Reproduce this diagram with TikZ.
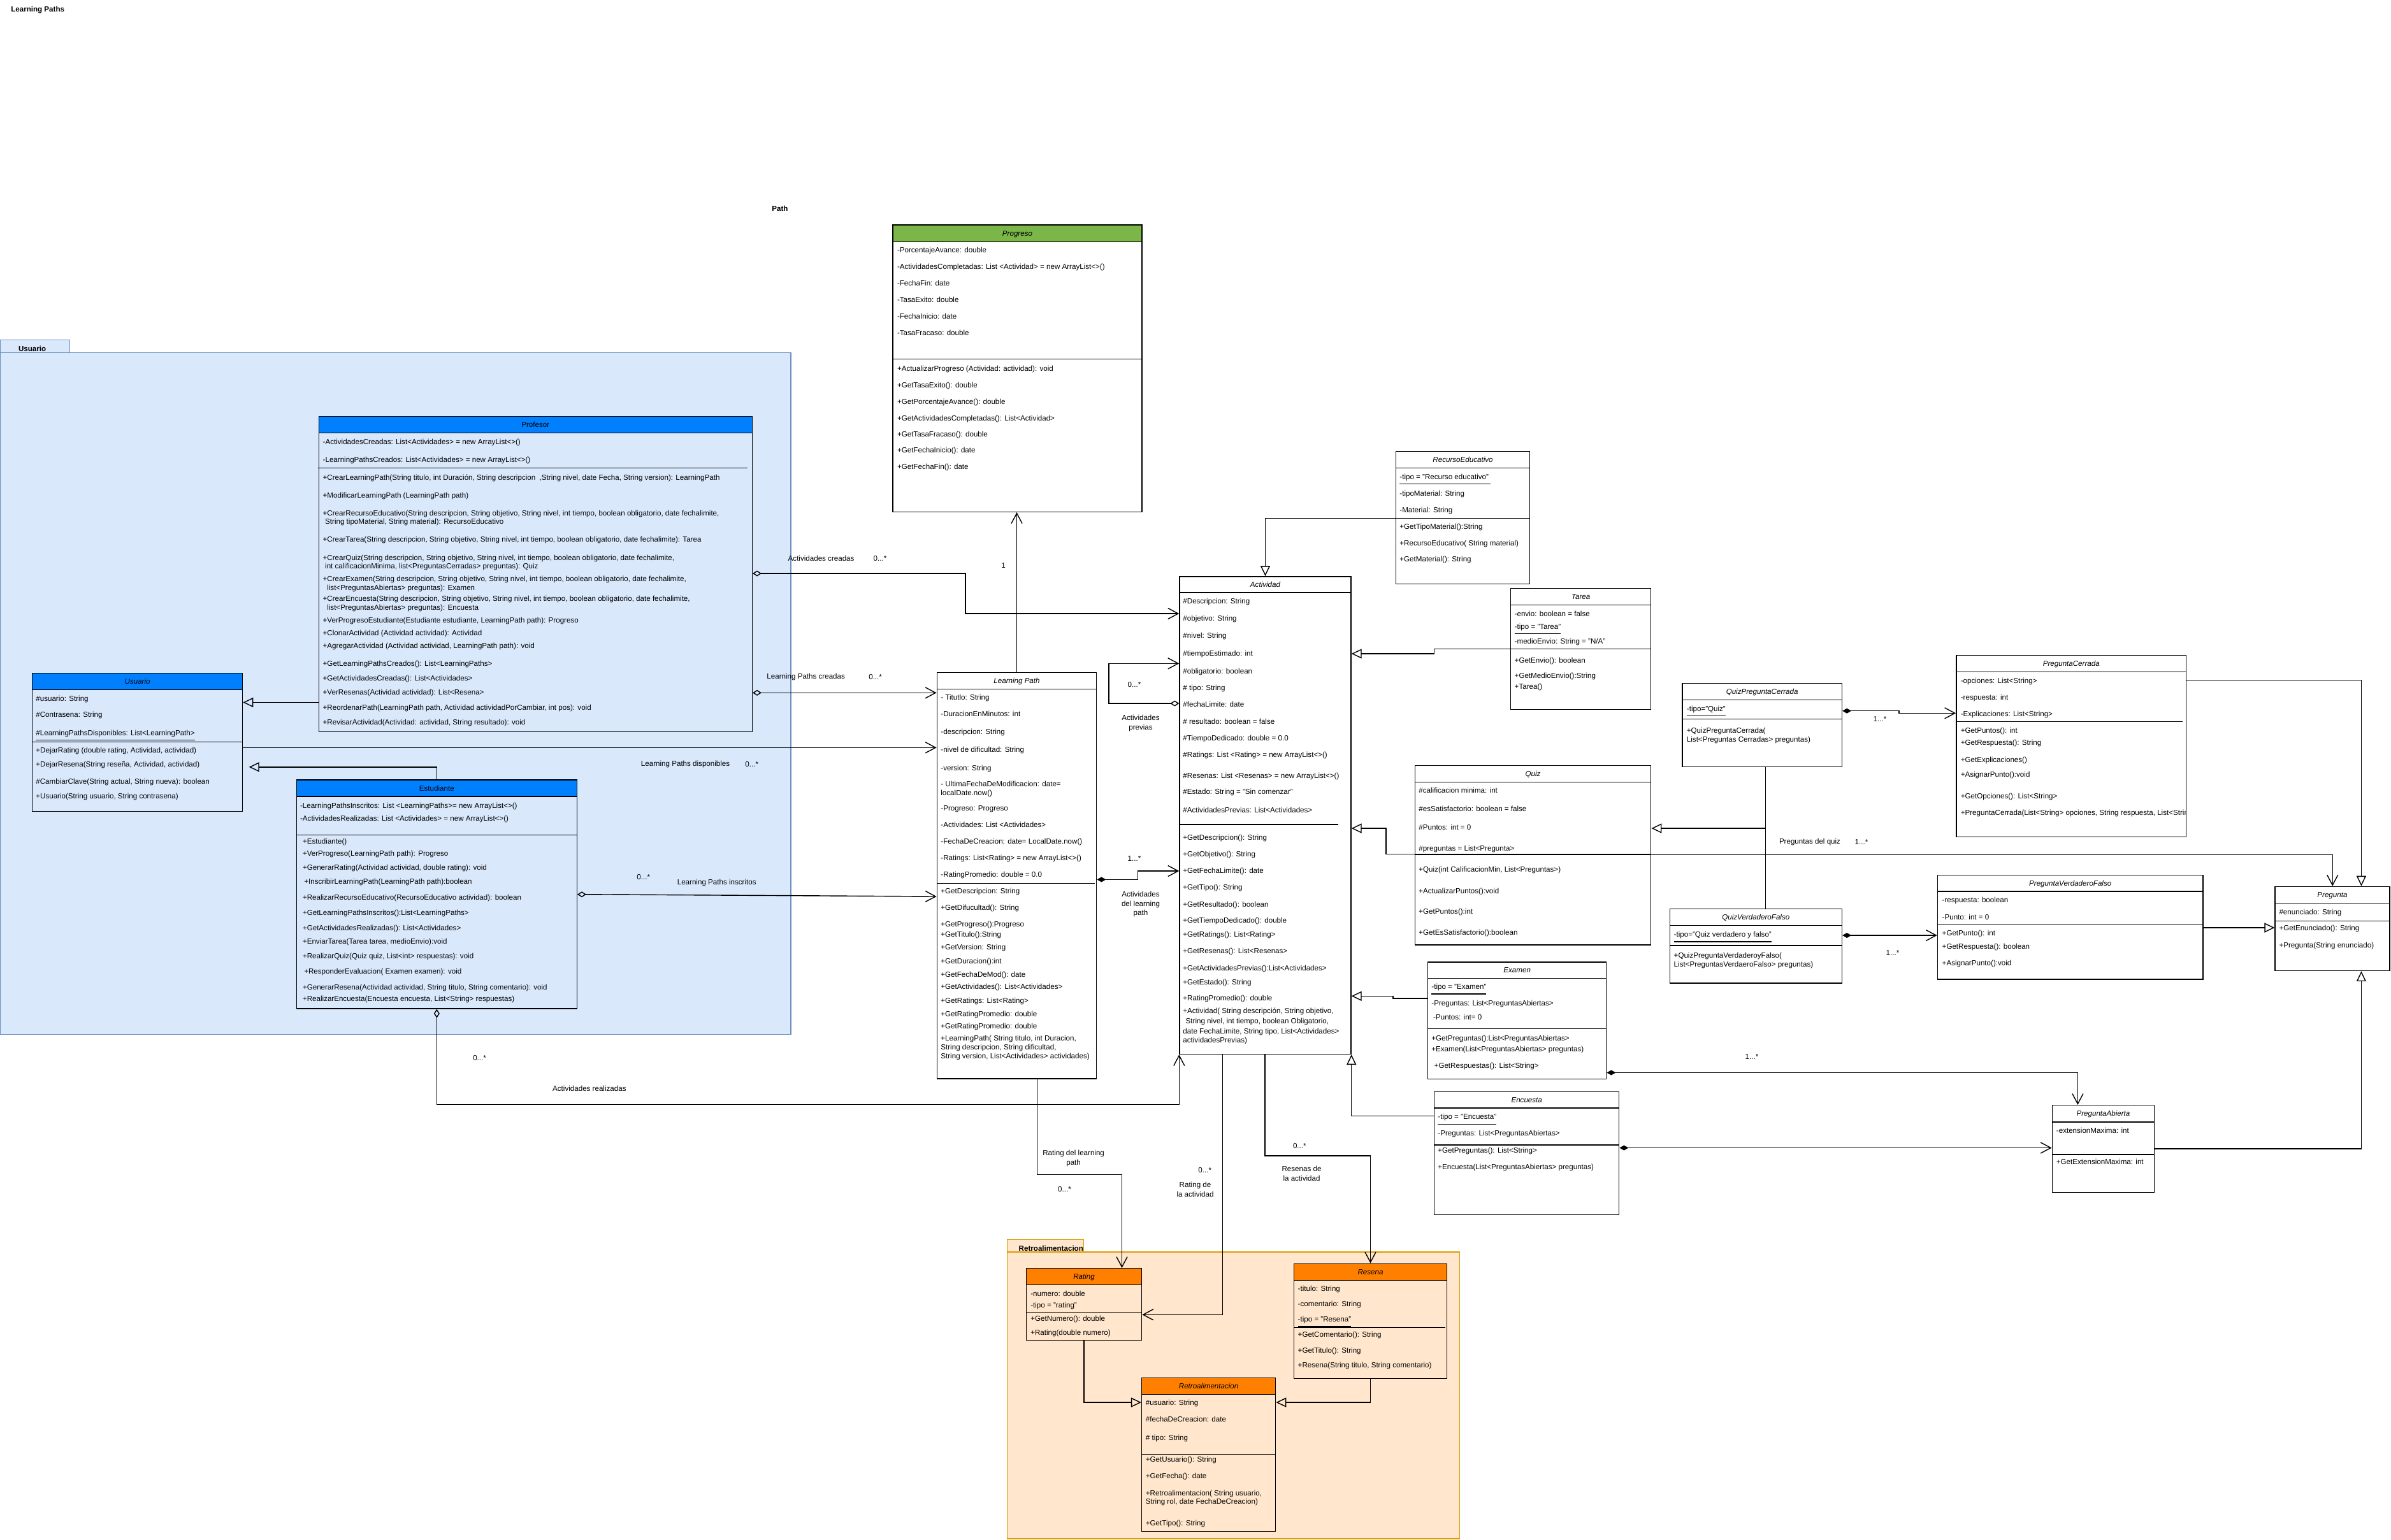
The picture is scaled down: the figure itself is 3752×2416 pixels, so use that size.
\documentclass[tikz,border=0pt]{standalone}
\usepackage{fontspec}
\setmainfont{Liberation Sans}
\usetikzlibrary{arrows.meta,fit}
\definecolor{ublue}{HTML}{DAE8FC}
\definecolor{ustroke}{HTML}{6C8EBF}
\definecolor{rorange}{HTML}{FFE6CC}
\definecolor{rstroke}{HTML}{D79B00}
\definecolor{hblue}{HTML}{007FFF}
\definecolor{horange}{HTML}{FF8000}
\definecolor{hgreen}{HTML}{7AB648}
\newcommand\fsz{\fontsize{3.3pt}{4.1pt}\selectfont}
\def\linew{0.4pt}
\newcounter{tlc}
\newcommand\tline[3]{\stepcounter{tlc}\node[tx] (tl\thetlc) at (#1,{#2+4}) {#3};}
\newcommand\umlcls[9]{%
  \filldraw[fill=#7,line width=\linew] (#2,#3) rectangle (#4,#6);
  \coordinate (#1nw) at (#2,#3);
  \coordinate (#1se) at (#4,#5);
  \node[box,fit=(#1nw)(#1se)] (#1) {};
  \node[ttl,font=\fsz#9] (#1t) at ({(#2+#4)/2},{(#3+#6)/2+4}) {#8};
}
\begin{document}
\begin{tikzpicture}[x=0.1mm,y=-0.1mm,
  tx/.style={font=\fsz,inner sep=0pt,anchor=base west},
  ttl/.style={font=\fsz,inner sep=0pt,anchor=base},
  lbl/.style={font=\fsz,inner sep=0pt,align=center},
  bold/.style={font=\fsz\bfseries,inner sep=0pt},
  box/.style={draw,line width=\linew,inner sep=0pt},
  sepl/.style={line width=\linew},
  conn/.style={draw,line width=\linew},
  gen/.style={conn,-{Triangle[open,length=1.6mm,width=1.5mm]}},
  assoc/.style={conn,-{Straight Barb[length=1.6mm,width=1.7mm]}},
  agg/.style={conn,{Diamond[open,length=1.4mm,width=0.9mm]}-{Straight Barb[length=1.6mm,width=1.7mm]}},
  comp/.style={conn,{Diamond[length=1.4mm,width=0.8mm]}-{Straight Barb[length=1.6mm,width=1.7mm]}}
]
\useasboundingbox (0,0) rectangle (3752,2416);

% titles
\node[bold,anchor=base west] (title) at (16.6,18) {Learning Paths};
\node[bold,anchor=base] (pathlbl) at (1224,331) {Path};

% packages
\filldraw[fill=ublue,draw=ustroke,line width=\linew] (0,533.5) rectangle (109.5,553.5);
\filldraw[fill=ublue,draw=ustroke,line width=\linew] (0,553.5) rectangle (1241,1623.3);
\node[bold,anchor=base] (pkgusr) at (50.6,551) {Usuario};
\filldraw[fill=rorange,draw=rstroke,line width=\linew] (1580.2,1945.3) rectangle (1700.4,1965);
\filldraw[fill=rorange,draw=rstroke,line width=\linew] (1580.2,1965) rectangle (2290.7,2415);
\node[bold,anchor=base west] (pkgret) at (1598,1963) {Retroalimentacion};

% ---------- Progreso
\umlcls{prog}{1401}{353}{1792}{803.3}{379.3}{hgreen}{Progreso}{\itshape}
\draw[sepl] (1401,563.3) -- (1792,563.3);
\tline{1407.3}{392.7}{-PorcentajeAvance: double}
\tline{1407.3}{418.7}{-ActividadesCompletadas: List <Actividad> = new ArrayList<>()}
\tline{1407.3}{444.7}{-FechaFin: date}
\tline{1407.3}{470.7}{-TasaExito: double}
\tline{1407.3}{496.7}{-FechaInicio: date}
\tline{1407.3}{522.7}{-TasaFracaso: double}
\tline{1407.3}{578.7}{+ActualizarProgreso (Actividad: actividad): void}
\tline{1407.3}{604.7}{+GetTasaExito(): double}
\tline{1407.3}{630}{+GetPorcentajeAvance(): double}
\tline{1407.3}{656}{+GetActividadesCompletadas(): List<Actividad>}
\tline{1407.3}{681.7}{+GetTasaFracaso(): double}
\tline{1407.3}{706.7}{+GetFechaInicio(): date}
\tline{1407.3}{732.7}{+GetFechaFin(): date}

% ---------- Profesor
\umlcls{prof}{500.3}{653.3}{1180.3}{1148.3}{679.3}{hblue}{Profesor}{\upshape}
\draw[sepl] (499.4,734.3) -- (1172.8,734.3);
\tline{506}{693.3}{-ActividadesCreadas: List<Actividades> = new ArrayList<>()}
\tline{506}{721}{-LearningPathsCreados: List<Actividades> = new ArrayList<>()}
\tline{506}{749}{+CrearLearningPath(String titulo, int Duración, String descripcion\ \ ,String nivel, date Fecha, String version): LearningPath}
\tline{506}{777}{+ModificarLearningPath (LearningPath path)}
\tline{506}{805}{+CrearRecursoEducativo(String descripcion, String objetivo, String nivel, int tiempo, boolean obligatorio, date fechalimite,}
\tline{509.5}{818.7}{String tipoMaterial, String material): RecursoEducativo}
\tline{506}{846.7}{+CrearTarea(String descripcion, String objetivo, String nivel, int tiempo, boolean obligatorio, date fechalimite): Tarea}
\tline{506}{875}{+CrearQuiz(String descripcion, String objetivo, String nivel, int tiempo, boolean obligatorio, date fechalimite,}
\tline{509.5}{888.7}{int calificacionMinima, list<PreguntasCerradas> preguntas): Quiz}
\tline{506}{908.7}{+CrearExamen(String descripcion, String objetivo, String nivel, int tiempo, boolean obligatorio, date fechalimite,}
\tline{512.6}{922.7}{list<PreguntasAbiertas> preguntas): Examen}
\tline{506}{939.7}{+CrearEncuesta(String descripcion, String objetivo, String nivel, int tiempo, boolean obligatorio, date fechalimite,}
\tline{512.6}{953.7}{list<PreguntasAbiertas> preguntas): Encuesta}
\tline{506}{973}{+VerProgresoEstudiante(Estudiante estudiante, LearningPath path): Progreso}
\tline{506}{993.7}{+ClonarActividad (Actividad actividad): Actividad}
\tline{506}{1013.7}{+AgregarActividad (Actividad actividad, LearningPath path): void}
\tline{506}{1041.7}{+GetLearningPathsCreados(): List<LearningPaths>}
\tline{506}{1064.7}{+GetActividadesCreadas(): List<Actividades>}
\tline{506}{1086.7}{+VerResenas(Actividad actividad): List<Resena>}
\tline{506}{1110.7}{+ReordenarPath(LearningPath path, Actividad actividadPorCambiar, int pos): void}
\tline{506}{1133.7}{+RevisarActividad(Actividad: actividad, String resultado): void}

% ---------- Usuario
\umlcls{usr}{50.7}{1056.5}{380.6}{1273.4}{1082.2}{hblue}{Usuario}{\itshape}
\draw[sepl] (50.7,1164.2) -- (380.6,1164.2);
\tline{55.7}{1096.1}{\#usuario: String}
\tline{55.7}{1121.8}{\#Contrasena: String}
\tline{55.7}{1150}{\underline{\#LearningPathsDisponibles: List<LearningPath>}}
\tline{55.7}{1177.8}{+DejarRating (double rating, Actividad, actividad)}
\tline{55.7}{1199}{+DejarResena(String reseña, Actividad, actividad)}
\tline{55.7}{1226.8}{\#CambiarClave(String actual, String nueva): boolean}
\tline{55.7}{1249}{+Usuario(String usuario, String contrasena)}

% ---------- Estudiante
\umlcls{est}{465.4}{1224}{905.3}{1583}{1250}{hblue}{Estudiante}{\upshape}
\draw[sepl] (465.4,1310.2) -- (905.3,1310.2);
\tline{470.4}{1264}{-LearningPathsInscritos: List <LearningPaths>= new ArrayList<>()}
\tline{470.4}{1284.8}{-ActividadesRealizadas: List <Actividades> = new ArrayList<>()}
\tline{474.3}{1320.3}{+Estudiante()}
\tline{474.3}{1339.8}{+VerProgreso(LearningPath path): Progreso}
\tline{474.3}{1361}{+GenerarRating(Actividad actividad, double rating): void}
\tline{476.6}{1383.9}{+InscribirLearningPath(LearningPath path):boolean}
\tline{474.3}{1408.9}{+RealizarRecursoEducativo(RecursoEducativo actividad): boolean}
\tline{474.3}{1432.9}{+GetLearningPathsInscritos():List<LearningPaths>}
\tline{474.3}{1456.2}{+GetActividadesRealizadas(): List<Actividades>}
\tline{474.3}{1477.7}{+EnviarTarea(Tarea tarea, medioEnvio):void}
\tline{474.3}{1500.7}{+RealizarQuiz(Quiz quiz, List<int> respuestas): void}
\tline{476.6}{1524}{+ResponderEvaluacion( Examen examen): void}
\tline{474.3}{1549}{+GenerarResena(Actividad actividad, String titulo, String comentario): void}
\tline{474.3}{1567.1}{+RealizarEncuesta(Encuesta encuesta, List<String> respuestas)}

% ---------- Learning Path
\umlcls{lp}{1470.3}{1055.5}{1720.7}{1693.1}{1081.6}{white}{Learning Path}{\itshape}
\draw[sepl] (1470.3,1386.7) -- (1718,1386.7);
\tline{1475.7}{1094.7}{- Titutlo: String}
\tline{1475.7}{1120.8}{-DuracionEnMinutos: int}
\tline{1475.7}{1148.5}{-descripcion: String}
\tline{1475.7}{1176.7}{-nivel de dificultad: String}
\tline{1475.7}{1205}{-version: String}
\tline{1475.7}{1230.6}{- UltimaFechaDeModificacion: date=}
\tline{1475.7}{1244.5}{localDate.now()}
\tline{1475.7}{1268.5}{-Progreso: Progreso}
\tline{1475.7}{1294.6}{-Actividades: List <Actividades>}
\tline{1475.7}{1320.7}{-FechaDeCreacion: date= LocalDate.now()}
\tline{1475.7}{1346.8}{-Ratings: List<Rating> = new ArrayList<>()}
\tline{1475.7}{1372.4}{-RatingPromedio: double = 0.0}
\tline{1475.7}{1398.5}{+GetDescripcion: String}
\tline{1475.7}{1424.6}{+GetDifucultad(): String}
\tline{1475.7}{1450.7}{+GetProgreso():Progreso}
\tline{1475.7}{1466.3}{+GetTitulo():String}
\tline{1475.7}{1486.5}{+GetVersion: String}
\tline{1475.7}{1508.4}{+GetDuracion():int}
\tline{1475.7}{1529.4}{+GetFechaDeMod(): date}
\tline{1475.7}{1548.4}{+GetActividades(): List<Actividades>}
\tline{1475.7}{1570.7}{+GetRatings: List<Rating>}
\tline{1475.7}{1591.3}{+GetRatingPromedio: double}
\tline{1475.7}{1610.2}{+GetRatingPromedio: double}
\tline{1475.7}{1629.6}{+LearningPath( String titulo, int Duracion,}
\tline{1475.7}{1643.1}{String descripcion, String dificultad,}
\tline{1475.7}{1657.4}{String version, List<Actividades> actividades)}

% ---------- Actividad
\umlcls{act}{1851}{904.8}{2120}{1654.3}{930.1}{white}{Actividad}{\itshape}
\draw[sepl] (1851,1294) -- (2100,1294);
\tline{1855.7}{943.8}{\#Descripcion: String}
\tline{1855.7}{970.6}{\#objetivo: String}
\tline{1855.7}{997.4}{\#nivel: String}
\tline{1855.7}{1025.7}{\#tiempoEstimado: int}
\tline{1855.7}{1053.5}{\#obligatorio: boolean}
\tline{1855.7}{1079.4}{\# tipo: String}
\tline{1855.7}{1105.7}{\#fechaLimite: date}
\tline{1855.7}{1132.6}{\# resultado: boolean = false}
\tline{1855.7}{1158.4}{\#TiempoDedicado: double = 0.0}
\tline{1855.7}{1184.3}{\#Ratings: List <Rating> = new ArrayList<>()}
\tline{1855.7}{1217}{\#Resenas: List <Resenas> = new ArrayList<>()}
\tline{1855.7}{1242.3}{\#Estado: String = "Sin comenzar"}
\tline{1855.7}{1271.6}{\#ActividadesPrevias: List<Actividades>}
\tline{1855.7}{1314.5}{+GetDescripcion(): String}
\tline{1855.7}{1340.4}{+GetObjetivo(): String}
\tline{1855.7}{1366.7}{+GetFechaLimite(): date}
\tline{1855.7}{1392.6}{+GetTipo(): String}
\tline{1855.7}{1419.4}{+GetResultado(): boolean}
\tline{1855.7}{1444.8}{+GetTiempoDedicado(): double}
\tline{1855.7}{1466.7}{+GetRatings(): List<Rating>}
\tline{1855.7}{1492.6}{+GetResenas(): List<Resenas>}
\tline{1855.7}{1519.4}{+GetActividadesPrevias():List<Actividades>}
\tline{1855.7}{1541.3}{+GetEstado(): String}
\tline{1855.7}{1566.7}{+RatingPromedio(): double}
\tline{1855.7}{1586.7}{+Actividad( String descripción, String objetivo,}
\tline{1860}{1602.3}{String nivel, int tiempo, boolean Obligatorio,}
\tline{1855.7}{1618}{date FechaLimite, String tipo, List<Actividades>}
\tline{1855.7}{1632.6}{actividadesPrevias)}

% ---------- RecursoEducativo
\umlcls{re}{2190.3}{708.3}{2400.7}{916.7}{734.3}{white}{RecursoEducativo}{\itshape}
\draw[sepl] (2190.3,813.3) -- (2400.7,813.3);
\tline{2195.7}{748.3}{\underline{-tipo = "Recurso educativo" }}
\tline{2195.7}{774}{-tipoMaterial: String}
\tline{2195.7}{800}{-Material: String}
\tline{2195.7}{826}{+GetTipoMaterial():String}
\tline{2195.7}{852}{+RecursoEducativo( String material)}
\tline{2195.7}{877.7}{+GetMaterial(): String}

% ---------- Tarea
\umlcls{tar}{2370.7}{923.3}{2590.7}{1113.3}{949.3}{white}{Tarea}{\itshape}
\draw[sepl] (2370.7,1018.3) -- (2590.7,1018.3);
\tline{2376}{963.3}{-envio: boolean = false}
\tline{2376}{983.3}{\underline{-tipo = "Tarea"}}
\tline{2376}{1006.7}{-medioEnvio: String = "N/A"}
\tline{2376}{1036.7}{+GetEnvio(): boolean}
\tline{2376}{1060.7}{+GetMedioEnvio():String}
\tline{2376}{1077.7}{+Tarea()}

% ---------- Quiz
\umlcls{quiz}{2220.3}{1201.5}{2590.7}{1482.9}{1227.6}{white}{Quiz}{\itshape}
\draw[sepl] (2220.3,1340.6) -- (2590.7,1340.6);
\tline{2225.7}{1240.5}{\#calificacion minima: int}
\tline{2225.7}{1269}{\#esSatisfactorio: boolean = false}
\tline{2225.7}{1298.8}{\#Puntos: int = 0}
\tline{2225.7}{1331.4}{\#preguntas = List<Pregunta>}
\tline{2225.7}{1364.9}{+Quiz(int CalificacionMin, List<Preguntas>)}
\tline{2225.7}{1398}{+ActualizarPuntos():void}
\tline{2225.7}{1430.1}{+GetPuntos():int}
\tline{2225.7}{1463.6}{+GetEsSatisfactorio():boolean}

% ---------- Examen
\umlcls{exa}{2240.7}{1510}{2520.7}{1693.2}{1535.3}{white}{Examen}{\itshape}
\draw[sepl] (2240.7,1614.7) -- (2520.7,1614.7);
\tline{2245.7}{1548.6}{\underline{-tipo = "Examen"}}
\tline{2245.7}{1574.8}{-Preguntas: List<PreguntasAbiertas>}
\tline{2248.5}{1596.8}{-Puntos: int= 0}
\tline{2245.7}{1629.4}{+GetPreguntas():List<PreguntasAbiertas>}
\tline{2245.7}{1646.8}{+Examen(List<PreguntasAbiertas> preguntas)}
\tline{2250}{1672.5}{+GetRespuestas(): List<String>}

% ---------- Encuesta
\umlcls{enc}{2250.7}{1713.4}{2540.7}{1906.3}{1739.1}{white}{Encuesta}{\itshape}
\draw[sepl] (2250.7,1797) -- (2540.7,1797);
\tline{2255.7}{1752.9}{\underline{-tipo = "Encuesta"}}
\tline{2255.7}{1778.6}{-Preguntas: List<PreguntasAbiertas>}
\tline{2255.7}{1805.2}{+GetPreguntas(): List<String>}
\tline{2255.7}{1831}{+Encuesta(List<PreguntasAbiertas> preguntas)}

% ---------- QuizPreguntaCerrada
\umlcls{qpc}{2639.9}{1072.3}{2890.4}{1203.3}{1098.3}{white}{QuizPreguntaCerrada}{\itshape}
\draw[sepl] (2639.9,1128.3) -- (2890.4,1128.3);
\tline{2646.2}{1112.3}{\underline{-tipo="Quiz"}}
\tline{2646.2}{1146}{+QuizPreguntaCerrada(}
\tline{2646.2}{1160}{List<Preguntas Cerradas> preguntas)}

% ---------- PreguntaCerrada
\umlcls{pc}{3069.8}{1028.3}{3430.7}{1313.3}{1054.3}{white}{PreguntaCerrada}{\itshape}
\draw[sepl] (3069.8,1132.3) -- (3425.4,1132.3);
\tline{3076.1}{1068.3}{-opciones: List<String>}
\tline{3076.1}{1094}{-respuesta: int}
\tline{3076.1}{1120}{-Explicaciones: List<String>}
\tline{3076.1}{1146}{+GetPuntos(): int}
\tline{3076.1}{1165.7}{+GetRespuesta(): String}
\tline{3076.1}{1192}{+GetExplicaciones()}
\tline{3076.1}{1215.7}{+AsignarPunto():void}
\tline{3076.1}{1249}{+GetOpciones(): List<String>}
\begin{scope}
\clip (3069.8,1028.3) rectangle (3430.7,1313.3);
\tline{3076.1}{1275}{+PreguntaCerrada(List<String> opciones, String respuesta, List<String> explicaciones)}
\end{scope}

% ---------- QuizVerdaderoFalso
\umlcls{qvf}{2620.2}{1426.5}{2890.4}{1543.1}{1452.4}{white}{QuizVerdaderoFalso}{\itshape}
\draw[sepl] (2620.2,1483.9) -- (2890.4,1483.9);
\tline{2626}{1466.5}{\underline{-tipo="Quiz verdadero y falso"}}
\tline{2626}{1499.8}{+QuizPreguntaVerdaderoyFalso(}
\tline{2626}{1513.8}{List<PreguntasVerdaeroFalso> preguntas)}

% ---------- PreguntaVerdaderoFalso
\umlcls{pvf}{3040.4}{1373.3}{3457}{1537.1}{1399.1}{white}{PreguntaVerdaderoFalso}{\itshape}
\draw[sepl] (3040.4,1451.3) -- (3457,1451.3);
\tline{3047}{1412.8}{-respuesta: boolean}
\tline{3047}{1439.1}{-Punto: int = 0}
\tline{3047}{1464.6}{+GetPunto(): int}
\tline{3047}{1485}{+GetRespuesta(): boolean}
\tline{3047}{1511.2}{+AsignarPunto():void}

% ---------- Pregunta
\umlcls{preg}{3570}{1391.4}{3749.8}{1523.5}{1417.6}{white}{Pregunta}{\itshape}
\draw[sepl] (3570,1445.4) -- (3749.8,1445.4);
\tline{3575.8}{1431}{\#enunciado: String}
\tline{3575.8}{1456.9}{+GetEnunciado(): String}
\tline{3575.8}{1483.1}{+Pregunta(String enunciado)}

% ---------- PreguntaAbierta
\umlcls{pa}{3220.3}{1734.7}{3380.6}{1871.6}{1761}{white}{PreguntaAbierta}{\itshape}
\draw[sepl] (3220.3,1812) -- (3380.6,1812);
\tline{3226.2}{1774.7}{-extensionMaxima: int}
\tline{3226.2}{1823.1}{+GetExtensionMaxima: int}

% ---------- Rating
\umlcls{rat}{1610.5}{1990.7}{1791.6}{2103.3}{2016.7}{horange}{Rating}{\itshape}
\draw[sepl] (1610.5,2059.3) -- (1791.6,2059.3);
\tline{1616.6}{2030}{-numero: double}
\tline{1616.6}{2048}{\underline{-tipo = "rating"}}
\tline{1616.6}{2069.7}{+GetNumero(): double}
\tline{1616.6}{2091}{+Rating(double numero)}

% ---------- Resena
\umlcls{res}{2030.4}{1983.3}{2270.7}{2163.3}{2009.3}{horange}{Resena}{\itshape}
\draw[sepl] (2030.4,2083.3) -- (2268,2083.3);
\tline{2036}{2022.7}{-titulo: String}
\tline{2036}{2046.7}{-comentario: String}
\tline{2036}{2070.7}{\underline{-tipo = "Resena"}}
\tline{2036}{2094.7}{+GetComentario(): String}
\tline{2036}{2119}{+GetTitulo(): String}
\tline{2036}{2142.7}{+Resena(String titulo, String comentario)}

% ---------- Retroalimentacion
\umlcls{ret}{1791.6}{2162.3}{2001.6}{2403.3}{2188.3}{horange}{Retroalimentacion}{\itshape}
\draw[sepl] (1791.6,2282.3) -- (2001.6,2282.3);
\tline{1797.2}{2201.7}{\#usuario: String}
\tline{1797.2}{2227.7}{\#fechaDeCreacion: date}
\tline{1797.2}{2256.7}{\# tipo: String}
\tline{1797.2}{2290.7}{+GetUsuario(): String}
\tline{1797.2}{2316.7}{+GetFecha(): date}
\tline{1797.2}{2343}{+Retroalimentacion( String usuario,}
\tline{1797.2}{2356.7}{String rol, date FechaDeCreacion)}
\tline{1797.2}{2390.7}{+GetTipo(): String}

% ================= connectors
\coordinate (g2end) at (390.7,1203.8);
\draw[gen] (prof.west |- 0,1102.4) -- (usr.east |- 0,1102.4);
\draw[gen] (est.north) -- (est.north |- 0,1203.8) -- (g2end);
\draw[assoc] (usr.east |- 0,1173.3) -- (lp.west |- 0,1173.3);
\draw[agg] (prof.east |- 0,900) -- (1515,900) -- (1515,963) -- (act.west |- 0,963);
\draw[agg] (prof.east |- 0,1087.3) -- (lp.west |- 0,1087.3);
\draw[agg] (est.east |- 0,1403.7) -- (lp.west |- 0,1407);
\draw[agg] (est.south) -- (est.south |- 0,1733.3) -- (act.south west |- 0,1733.3) -- (act.south west);
\draw[assoc] (lp.north) -- (lp.north |- prog.south);
\draw[agg] (act.west |- 0,1104) -- (1740,1104) -- (1740,1041.3) -- (act.west |- 0,1041.3);
\draw[comp] (lp.east |- 0,1380.4) -- (1785.7,1380.4) -- (1785.7,1367) -- (act.west |- 0,1367);
\draw[gen] (re.west |- 0,813.3) -| (act.north);
\draw[gen] (tar.west |- 0,1018.3) -- (2250.7,1018.3) -- (2250.7,1026) -- (act.east |- 0,1026);
\draw[gen] (quiz.west |- 0,1340.6) -- (2175,1340.6) -- (2175,1300) -- (act.east |- 0,1300);
\draw[gen] (qpc.south -| 2770.6,0) -- (2770.6,1300) -- (quiz.east |- 0,1300);
\draw[conn] (qvf.north -| 2770.6,0) -- (2770.6,1300);
\draw[assoc] (quiz.west |- 0,1341.5) -- (3660.2,1341.5) -- (preg.north -| 3660.2,0);
\draw[comp] (qpc.east |- 0,1115.7) -- (2979.8,1115.7) -- (2979.8,1119.3) -- (pc.west |- 0,1119.3);
\draw[comp] (qvf.east |- 0,1468) -- (pvf.west |- 0,1468);
\draw[gen] (pc.east |- 0,1067.7) -| (preg.north -| 3705.4,0);
\draw[gen] (pvf.east |- 0,1456) -- (preg.west |- 0,1456);
\draw[gen] (pa.east |- 0,1803.1) -| (preg.south -| 3705.4,0);
\draw[comp] (exa.east |- 0,1683.5) -| (pa.north -| 3260.4,0);
\draw[comp] (enc.east |- 0,1801.5) -- (pa.west |- 0,1801.5);
\draw[assoc] (lp.south -| 1627.3,0) -- (1627.3,1843.3) -- (1760.5,1843.3) -- (rat.north -| 1760.5,0);
\draw[assoc] (act.south -| 1918.5,0) |- (rat.east |- 0,2063.3);
\draw[assoc] (act.south -| 1985,0) -- (1985,1814) -- (2150.5,1814) -- (res.north -| 2150.5,0);
\draw[gen] (rat.south) |- (ret.west |- 0,2201);
\draw[gen] (res.south) |- (ret.east |- 0,2201);
\draw[gen] (exa.west |- 0,1567) -- (2186,1567) -- (2186,1563.3) -- (act.east |- 0,1563.3);
\draw[gen] (enc.west |- 0,1751.5) -| (act.south east);

% ================= labels
\node[lbl] (l1) at (1288.6,876) {Actividades creadas};
\node[lbl] (l2) at (1381,876) {0...*};
\node[lbl] (l3) at (1264.7,1062.5) {Learning Paths creadas};
\node[lbl] (l4) at (1373.6,1062.5) {0...*};
\node[lbl] (l5) at (1075.6,1199) {Learning Paths disponibles};
\node[lbl] (l6) at (1179.8,1199) {0...*};
\node[lbl] (l7) at (1124.7,1385.5) {Learning Paths inscritos};
\node[lbl] (l8) at (1009.8,1376) {0...*};
\node[lbl] (l9) at (752.6,1660.7) {0...*};
\node[lbl] (l10) at (924.9,1708.6) {Actividades realizadas};
\node[lbl] (l11) at (1574.6,887.8) {1};
\node[lbl] (l12) at (1780,1074.5) {0...*};
\node[lbl] (l13) at (1790,1135) {Actividades\\previas};
\node[lbl] (l14) at (1780,1347) {1...*};
\node[lbl] (l15) at (1790,1419) {Actividades\\del learning\\path};
\node[lbl] (l16) at (2840,1321.5) {Preguntas del quiz};
\node[lbl] (l17) at (2921,1321.5) {1...*};
\node[lbl] (l18) at (2950,1128) {1...*};
\node[lbl] (l19) at (2970,1495) {1...*};
\node[lbl] (l20) at (2749,1658) {1...*};
\node[lbl] (l21) at (1684.6,1818) {Rating del learning\\path};
\node[lbl] (l22) at (1670.5,1866) {0...*};
\node[lbl] (l23) at (1890.7,1836) {0...*};
\node[lbl] (l24) at (1875.5,1867) {Rating de\\la actividad};
\node[lbl] (l25) at (2039.3,1798.3) {0...*};
\node[lbl] (l26) at (2042.5,1842) {Resenas de\\la actividad};
\end{tikzpicture}
\end{document}
